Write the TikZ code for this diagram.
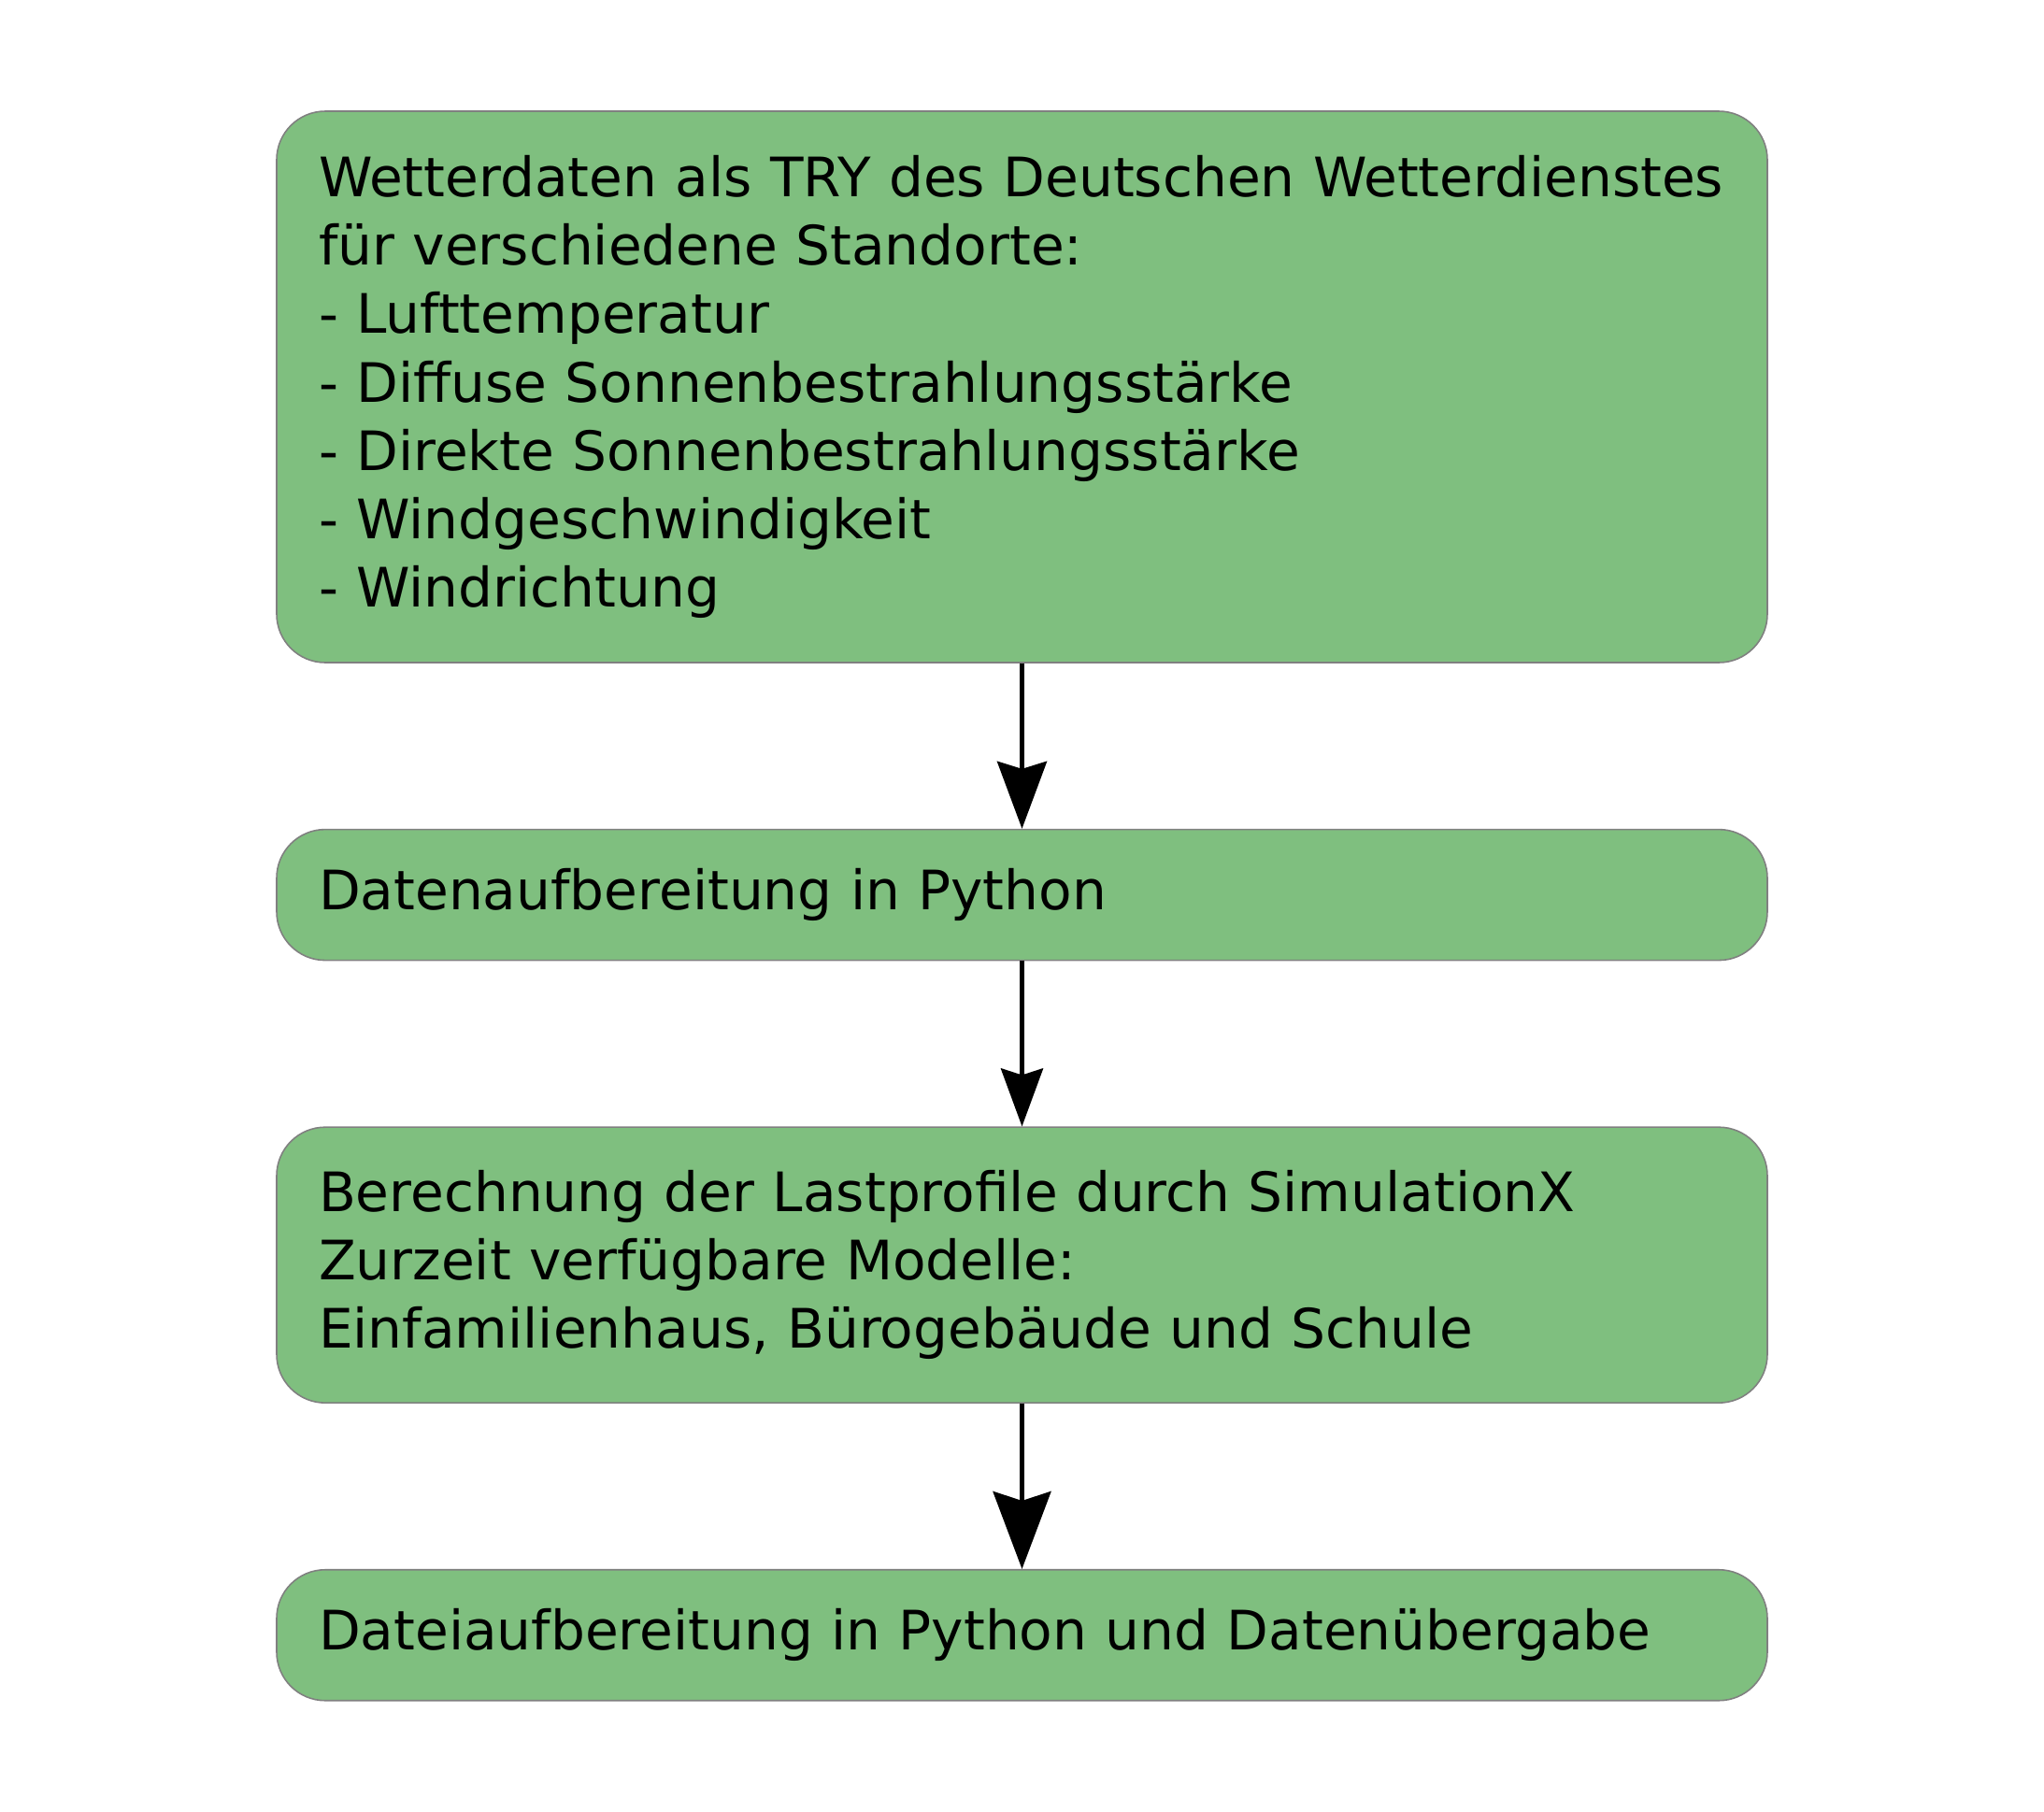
\documentclass[tikz,border=0pt]{standalone}
\usepackage{fontspec}
\setmainfont{DejaVu Sans}
\usetikzlibrary{arrows.meta,positioning}

\definecolor{boxgreen}{RGB}{127,191,127}
\definecolor{boxline}{RGB}{128,128,128}

\begin{document}
\begin{tikzpicture}[scale=1,
    stepbox/.style={draw=boxline, line width=0.45pt, fill=boxgreen,
      rounded corners=5.2mm, text width=15.21cm, inner xsep=3.7mm,
      inner ysep=0pt, align=left,
      execute at begin node={\leftskip=0.8mm},
      font=\fontsize{16.55pt}{20.8pt}\selectfont},
    flow/.style={line width=1.3pt},
  ]

  \useasboundingbox (0,0) rectangle (21.87,-19.39);

  \def\stepgap{1.77cm}

  % Ablauf von oben nach unten
  \node[stepbox, minimum height=5.9cm] (wetter) at (10.935,-4.14) {Wetterdaten als TRY des Deutschen Wetterdienstes\\
für verschiedene Standorte:\\
- Lufttemperatur\\
- Diffuse Sonnenbestrahlungsstärke\\
- Direkte Sonnenbestrahlungsstärke\\
- Windgeschwindigkeit\\
- Windrichtung};

  \node[stepbox, minimum height=1.4cm, below=\stepgap of wetter] (aufber) {Datenaufbereitung in Python};

  \node[stepbox, minimum height=2.95cm, below=\stepgap of aufber] (simx) {Berechnung der Lastprofile durch SimulationX\\
Zurzeit verfügbare Modelle:\\
Einfamilienhaus, Bürogebäude und Schule};

  \node[stepbox, minimum height=1.4cm, below=\stepgap of simx] (uebergabe) {Dateiaufbereitung in Python und Datenübergabe};

  % Pfeile zwischen den Schritten
  \draw[flow, -{Stealth[length=7.2mm, width=5.3mm, inset=0.8mm]}] (wetter) -- (aufber);
  \draw[flow, -{Stealth[length=6.2mm, width=4.5mm, inset=0.7mm]}] (aufber) -- (simx);
  \draw[flow, -{Stealth[length=8.3mm, width=6.2mm, inset=1mm]}] (simx) -- (uebergabe);

\end{tikzpicture}
\end{document}
